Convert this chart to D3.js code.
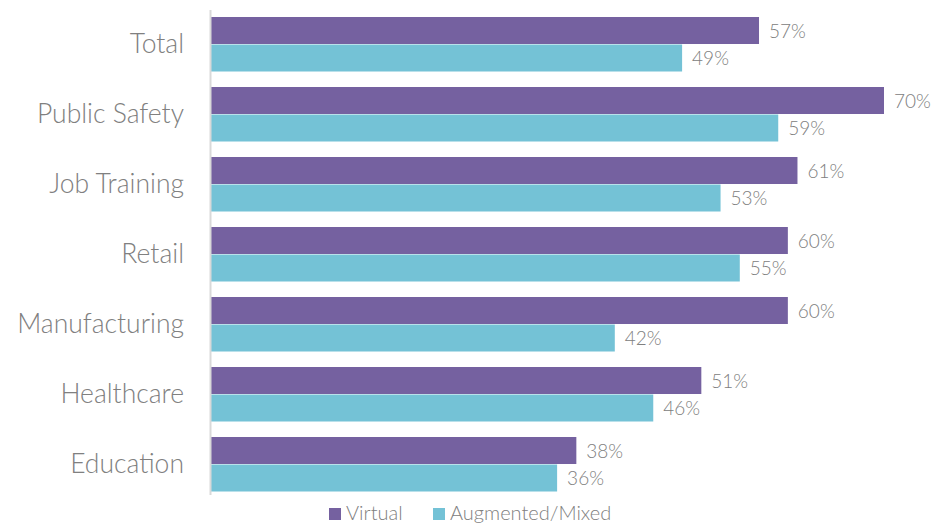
<!DOCTYPE html>
<html>
<head>
<meta charset="utf-8">
<script src="https://cdn.jsdelivr.net/npm/d3@7"></script>
<style>
  html, body { margin: 0; padding: 0; background: #fff; }
  svg { display: block; font-family: Lato, "Open Sans", sans-serif; font-weight: 300; }
</style>
</head>
<body>
<svg id="chart" width="934" height="524"></svg>
<script>
// Survey share by industry, two technology types
const categories = ["Total", "Public Safety", "Job Training", "Retail", "Manufacturing", "Healthcare", "Education"];
const seriesNames = ["Virtual", "Augmented/Mixed"];
const virtualValues = [57, 70, 61, 60, 60, 51, 38];
const augmentedValues = [49, 59, 53, 55, 42, 46, 36];
const seriesColors = ["#7561A0", "#74C2D6"];

const rows = categories.map((c, i) => ({
  category: c,
  values: [
    { series: seriesNames[0], value: virtualValues[i] },
    { series: seriesNames[1], value: augmentedValues[i] }
  ]
}));

const svg = d3.select("#chart");
const x0 = 211;

const x = d3.scaleLinear().domain([0, 70]).range([x0, 884]);
const y = d3.scaleBand().domain(categories).range([9.5, 499.5]).paddingInner(15 / 70).paddingOuter(15 / 140);
const ySub = d3.scaleBand().domain(seriesNames).range([0, y.bandwidth()]);
const color = d3.scaleOrdinal().domain(seriesNames).range(seriesColors);

const groups = svg.append("g").selectAll("g")
  .data(rows).join("g")
  .attr("transform", d => `translate(0,${y(d.category)})`);

groups.selectAll("rect")
  .data(d => d.values).join("rect")
  .attr("x", x0)
  .attr("y", d => ySub(d.series))
  .attr("width", d => x(d.value) - x0)
  .attr("height", ySub.bandwidth() - 0.5)
  .attr("fill", d => color(d.series));

groups.selectAll("text.val")
  .data(d => d.values).join("text")
  .attr("class", "val")
  .attr("x", d => x(d.value) + 10)
  .attr("y", d => ySub(d.series) + ySub.bandwidth() / 2)
  .attr("dy", "0.36em")
  .attr("fill", "#808080")
  .attr("font-size", 19)
  .text(d => d.value + "%");

// Category axis
const yAxis = d3.axisLeft(y).tickSize(0).tickPadding(27);
const ag = svg.append("g").attr("transform", `translate(${x0},0)`).call(yAxis);
ag.select(".domain").remove();
ag.selectAll("text")
  .attr("fill", "#808080")
  .attr("font-size", 26.5)
  .attr("font-weight", 300)
  .attr("font-family", "Lato, 'Open Sans', sans-serif");

svg.append("line")
  .attr("x1", x0 - 0.5).attr("x2", x0 - 0.5)
  .attr("y1", 10).attr("y2", 495)
  .attr("stroke", "#d9d9d9").attr("stroke-width", 2);

// Legend
const legendX = [329, 433];
const legend = svg.append("g").selectAll("g")
  .data(seriesNames).join("g")
  .attr("transform", (d, i) => `translate(${legendX[i]},507)`);
legend.append("rect").attr("y", 1).attr("width", 12).attr("height", 12).attr("fill", d => color(d));
legend.append("text")
  .attr("x", 17).attr("y", 13)
  .attr("fill", "#808080").attr("font-size", 20)
  .text(d => d);
</script>
</body>
</html>
